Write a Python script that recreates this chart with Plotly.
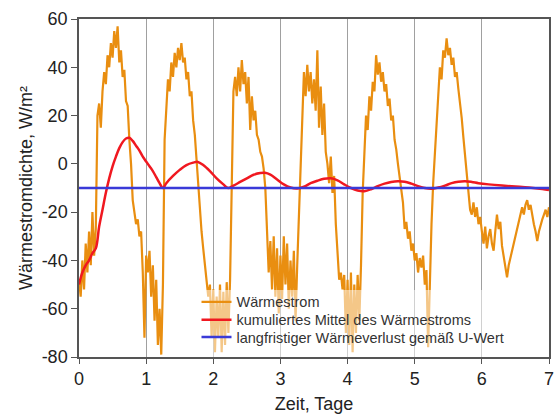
import plotly.graph_objects as go

schritt = 0.025
tag0 = [-48, -55, -40, -52, -33, -45, -28, -42, -20, -38, -27, 20, 25, 15, 30, 38, 33, 45, 40, 50,
        44, 55, 48, 57, 42, 47, 36, 39, 26, 24, 10, 0, -15, -21, -25, -23, -30, -28, -45, -72]
tag1 = [-38, -45, -36, -55, -42, -65, -48, -75, -60, -79, -50, 10, 25, 35, 30, 42, 36, 46, 40, 48,
        43, 50, 42, 44, 35, 38, 28, 30, 18, 12, 2, -8, -20, -28, -35, -42, -48, -55, -50, -72]
tag2 = [-52, -78, -55, -72, -50, -78, -53, -75, -49, -70, -48, -5, 30, 36, 28, 40, 30, 43, 33, 38,
        25, 36, 14, 28, 18, 22, 12, 10, 5, 3, -2, -10, -30, -45, -32, -52, -30, -55, -35, -62]
tag3 = [-38, -56, -30, -50, -33, -60, -40, -55, -36, -65, -42, -20, -5, 22, 38, 28, 41, 30, 38, 25,
        35, 22, 47, 15, 32, 12, 25, 5, 0, -8, 3, -12, -5, -25, -38, -48, -45, -52, -46, -70]
tag4 = [-48, -75, -45, -78, -50, -70, -46, -65, -42, -12, 4, 20, 14, 28, 22, 34, 30, 45, 37, 42,
        34, 38, 30, 33, 24, 27, 18, 20, 10, 6, 0, -5, -10, -16, -27, -24, -31, -28, -36, -33]
tag5 = [-40, -37, -45, -39, -43, -38, -50, -44, -76, -45, -25, -8, 4, 12, 28, 40, 35, 47, 44, 52,
        45, 48, 41, 44, 36, 38, 31, 26, 19, 11, 3, -2, -10, -19, -21, -16, -22, -18, -25, -22]
tag6 = [-28, -33, -26, -35, -30, -27, -33, -36, -28, -21, -27, -24, -34, -38, -42, -47, -42, -39, -36, -33,
        -30, -27, -24, -22, -18, -21, -17, -15, -19, -17, -22, -25, -28, -32, -28, -25, -23, -21, -19, -22, -18]
waermestrom = tag0 + tag1 + tag2 + tag3 + tag4 + tag5 + tag6
zeit = [i * schritt for i in range(len(waermestrom))]

# cumulative mean
mittel_x = [0, 0.05, 0.1, 0.15, 0.2, 0.25, 0.3, 0.35, 0.4, 0.45, 0.5, 0.55, 0.6, 0.65, 0.7, 0.75,
            0.8, 0.85, 0.9, 0.95, 1.0, 1.05, 1.1, 1.15, 1.2, 1.25, 1.3, 1.4, 1.5, 1.6, 1.7, 1.77,
            1.85, 1.95, 2.05, 2.15, 2.22, 2.3, 2.4, 2.5, 2.6, 2.7, 2.77, 2.85, 2.95, 3.05, 3.15,
            3.25, 3.35, 3.45, 3.55, 3.65, 3.75, 3.85, 3.95, 4.05, 4.15, 4.25, 4.35, 4.45, 4.55,
            4.65, 4.75, 4.85, 4.95, 5.05, 5.15, 5.25, 5.35, 5.45, 5.55, 5.65, 5.75, 5.85, 5.95,
            6.1, 6.3, 6.5, 6.7, 6.9, 7.0]
mittel_y = [-50, -45, -42, -40, -37, -35, -26, -19, -12, -6, -1, 3, 6.5, 9, 10.5, 10.8,
            9.5, 7.5, 5.5, 3, 1, -1, -3, -5.5, -8, -10, -8, -5, -2.5, -0.5, 0.5, 0.8,
            -0.5, -3, -6, -8.5, -10, -9, -7.5, -6, -4.5, -3.8, -3.7, -4.5, -6.5, -8.5, -9.8,
            -10.2, -9.5, -8, -7, -6.2, -6, -6.8, -8.5, -10, -11, -11.3, -10.5, -9.2, -8.2,
            -7.5, -7.2, -7.4, -8.2, -9.2, -10, -10.3, -9.8, -9, -8, -7.4, -7.2, -7.5, -8,
            -8.5, -9, -9.4, -9.8, -10.4, -10.8]

# long-term heat loss according to U-value
uwert_x = [0, 7]
uwert_y = [-10, -10]

x_ticks = [0, 1, 2, 3, 4, 5, 6, 7]
y_ticks = [-80, -60, -40, -20, 0, 20, 40, 60]
y_ticktext = ["-80", "-60", "-40", "-20", "0", "20", "40", "60"]

fig = go.Figure()
fig.add_trace(go.Scatter(x=zeit, y=waermestrom, mode="lines", name="Wärmestrom",
                         line=dict(color="#E98E10", width=2.2), legend="legend"))
fig.add_trace(go.Scatter(x=mittel_x, y=mittel_y, mode="lines", name="kumuliertes Mittel des Wärmestroms",
                         line=dict(color="#F01820", width=2.5, shape="spline"), legend="legend2"))
fig.add_trace(go.Scatter(x=uwert_x, y=uwert_y, mode="lines", name="langfristiger Wärmeverlust gemäß U-Wert",
                         line=dict(color="#3A3AD8", width=2.5), legend="legend3"))

font_fam = "Arial, Liberation Sans, sans-serif"
leg_common = dict(x=0.25, xanchor="left", yanchor="middle", bgcolor="rgba(0,0,0,0)", borderwidth=0,
                  font=dict(family=font_fam, size=14.5, color="#333333"))
fig.update_layout(
    width=560, height=414,
    margin=dict(l=79, r=11, t=19, b=57, autoexpand=False),
    paper_bgcolor="white", plot_bgcolor="white",
    font=dict(family=font_fam, size=18, color="#222222"),
    showlegend=True,
    legend=dict(y=0.163, **leg_common),
    legend2=dict(y=0.110, **leg_common),
    legend3=dict(y=0.059, **leg_common),
    shapes=[dict(type="rect", xref="paper", yref="paper", x0=0.245, x1=0.945, y0=0, y1=0.198,
                 fillcolor="rgba(255,255,255,0.5)", line=dict(width=0), layer="above")],
)
fig.update_xaxes(range=[0, 7], tickvals=x_ticks, showgrid=True, gridcolor="#A0A0A0", gridwidth=1.3,
                 showline=True, linecolor="#555555", linewidth=1.5, mirror=True, automargin=False,
                 ticks="outside", ticklen=5, tickcolor="#555555", zeroline=False,
                 title=dict(text="Zeit, Tage", font=dict(size=18), standoff=10))
fig.update_yaxes(range=[-80, 60], tickvals=y_ticks, ticktext=y_ticktext, showgrid=False,
                 showline=True, linecolor="#555555", linewidth=1.5, mirror=True, automargin=False,
                 ticks="outside", ticklen=6, tickcolor="#555555", zeroline=False,
                 title=dict(text="Wärmestromdichte, W/m²", font=dict(size=18), standoff=4))

fig.write_html("out.html", config={"displayModeBar": False},
               post_script="document.body.style.margin='0';document.body.style.overflow='hidden';")
